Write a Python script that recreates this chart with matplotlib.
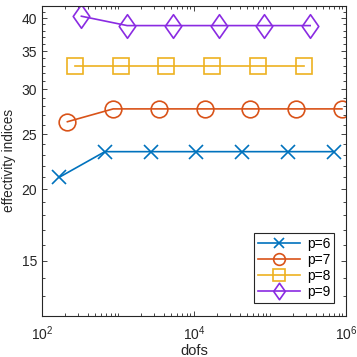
import matplotlib
matplotlib.use("Agg")
import matplotlib.pyplot as plt
import numpy as np
from matplotlib.path import Path
from matplotlib.ticker import FixedLocator, NullFormatter, LogFormatterMathtext

plt.rcParams['font.family'] = ['Liberation Sans', 'DejaVu Sans']
plt.rcParams['mathtext.fontset'] = 'custom'
plt.rcParams['mathtext.rm'] = 'Liberation Sans'
plt.rcParams['mathtext.it'] = 'Liberation Sans:italic'

# donnees
dofs_p6 = [168, 672, 2688, 10752, 43008, 172032, 688128]
eff_p6 = [21.0, 23.3, 23.3, 23.3, 23.3, 23.3, 23.3]

dofs_p7 = [216, 864, 3456, 13824, 55296, 221184, 884736]
eff_p7 = [26.3, 27.7, 27.7, 27.7, 27.7, 27.7, 27.7]

dofs_p8 = [270, 1080, 4320, 17280, 69120, 276480]
eff_p8 = [32.9, 32.9, 32.9, 32.9, 32.9, 32.9]

dofs_p9 = [330, 1320, 5280, 21120, 84480, 337920]
eff_p9 = [40.3, 38.8, 38.8, 38.8, 38.8, 38.8]

labels = ["p=6", "p=7", "p=8", "p=9"]
y_ticks = [15, 20, 25, 30, 35, 40]

# losange etire comme celui de matlab
diamond = Path([(0, 1), (0.7, 0), (0, -1), (-0.7, 0), (0, 1)],
               [Path.MOVETO, Path.LINETO, Path.LINETO, Path.LINETO, Path.CLOSEPOLY])

fig = plt.figure(figsize=(3.57, 3.57), dpi=100)
ax = fig.add_axes([0.1176, 0.1157, 0.8515, 0.8675])

lw = 1.2
ax.plot(dofs_p6, eff_p6, color='#0072BD', marker='x', ms=9.5, mew=lw, lw=lw,
        label=labels[0])
ax.plot(dofs_p7, eff_p7, color='#D95319', marker='o', ms=12, mfc='none', mew=lw,
        lw=lw, label=labels[1])
ax.plot(dofs_p8, eff_p8, color='#EDB120', marker='s', ms=11.5, mfc='none', mew=lw,
        lw=lw, label=labels[2])
ax.plot(dofs_p9, eff_p9, color='#8A2BE2', marker=diamond, ms=17, mfc='none', mew=lw,
        lw=lw, label=labels[3])

ax.set_xscale('log')
ax.set_yscale('log')
ax.set_xlim(1e2, 1e6)
ax.set_ylim(12, 42)

ax.xaxis.set_major_locator(FixedLocator([1e2, 1e4, 1e6]))
ax.xaxis.set_major_formatter(LogFormatterMathtext())
minx = [s * 10.0**d for d in range(2, 6) for s in range(1, 10)]
ax.xaxis.set_minor_locator(FixedLocator(minx))
ax.xaxis.set_minor_formatter(NullFormatter())

ax.yaxis.set_major_locator(FixedLocator(y_ticks))
ax.yaxis.set_major_formatter(plt.FuncFormatter(lambda v, p: "%d" % v))
ax.yaxis.set_minor_locator(FixedLocator(list(range(12, 43))))
ax.yaxis.set_minor_formatter(NullFormatter())

ax.tick_params(which='both', direction='in', top=True, right=True,
               color='#262626', labelcolor='#262626', labelsize=10)
ax.tick_params(which='major', length=3.5, width=0.6)
ax.tick_params(which='minor', length=2, width=0.6)
ax.tick_params(axis='x', pad=6)
for s in ax.spines.values():
    s.set_color('#262626')
    s.set_linewidth(0.8)

ax.set_xlabel('dofs', fontsize=10.5, color='#262626', labelpad=1)
ax.set_ylabel('effectivity indices', fontsize=9.8, color='#262626', labelpad=4)

leg = ax.legend(loc='lower right', bbox_to_anchor=(0.9615, 0.04), borderaxespad=0,
                fontsize=10, handlelength=3.0, markerscale=0.7, labelspacing=0.15,
                fancybox=False, framealpha=1, edgecolor='#262626',
                handletextpad=0.5, borderpad=0.3)
leg.get_frame().set_linewidth(0.8)

fig.savefig('out.png', dpi=100)
